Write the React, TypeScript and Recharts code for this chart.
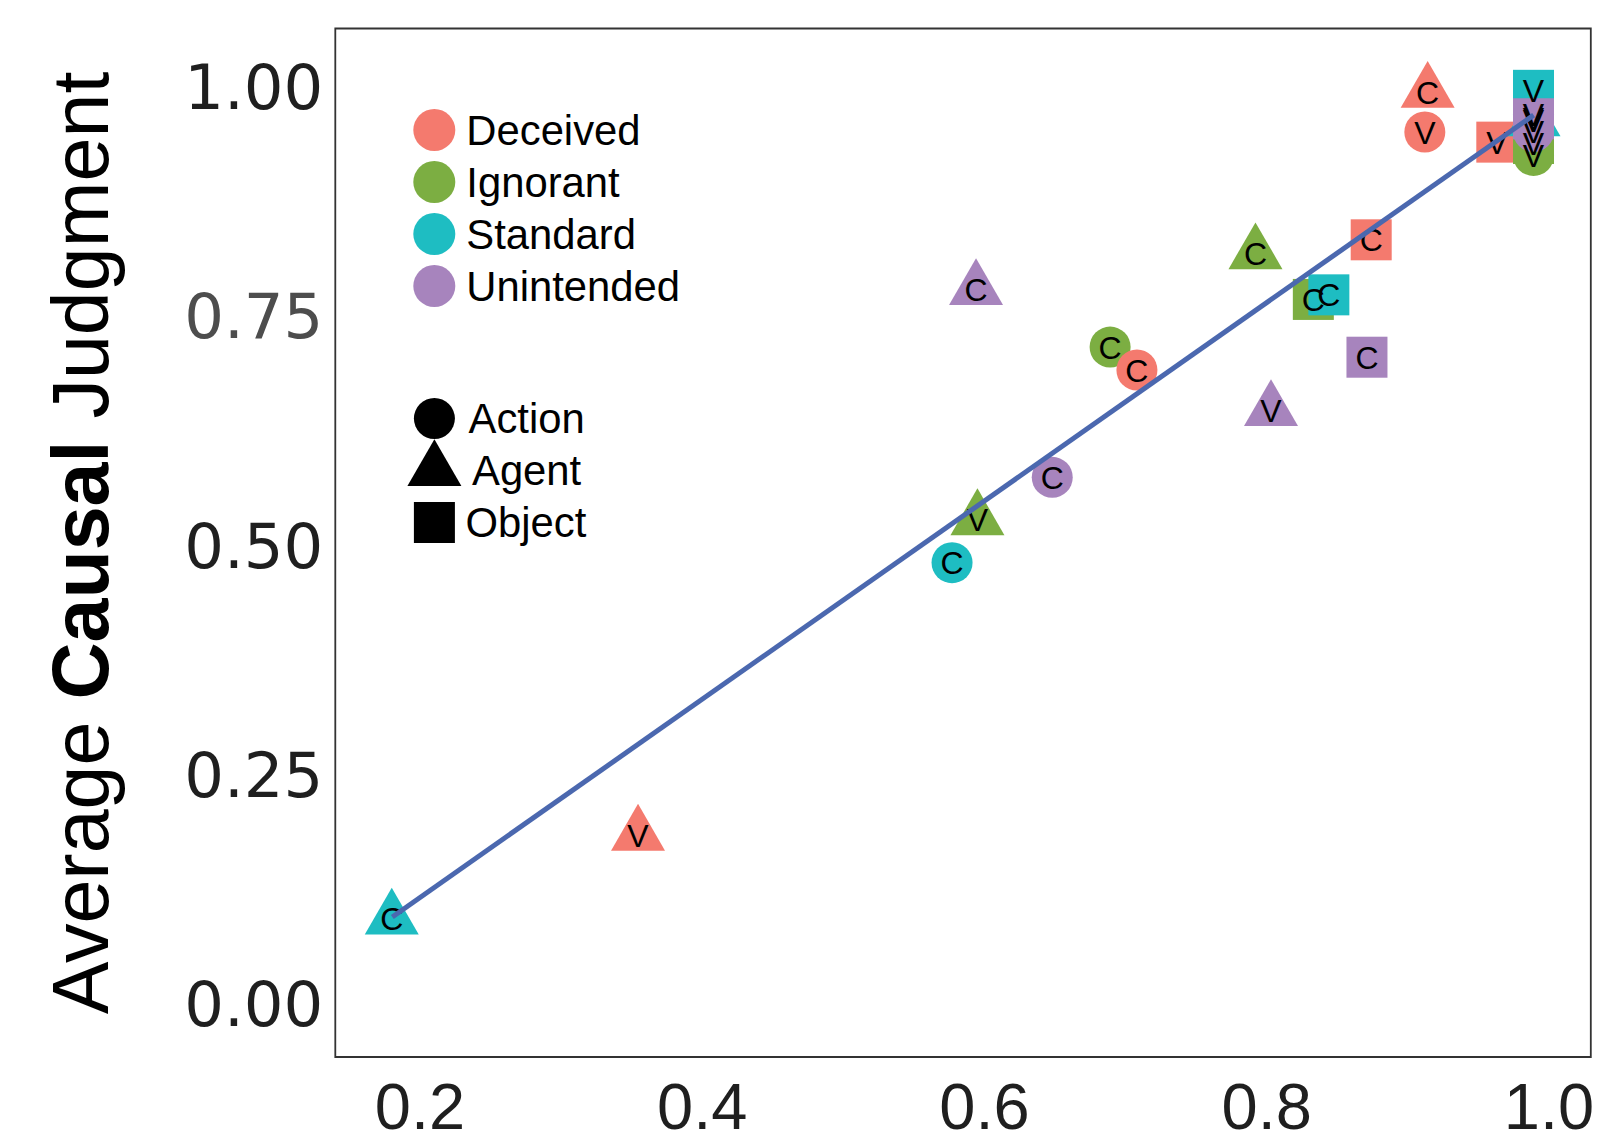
import React from 'react';
import { ScatterChart, Scatter, XAxis, YAxis, ReferenceArea } from 'recharts';

// ---- data ----
const conditions = ['Deceived', 'Ignorant', 'Standard', 'Unintended'];
const conditionColors = ['#F47A6E', '#7CAE42', '#1EBDC2', '#A784BD'];
const judgmentTypes = ['Action', 'Agent', 'Object'];

const pointCondition = [
  'Standard', 'Deceived', 'Standard', 'Ignorant', 'Unintended', 'Ignorant', 'Deceived', 'Unintended',
  'Ignorant', 'Unintended', 'Ignorant', 'Standard', 'Unintended', 'Deceived', 'Deceived', 'Deceived',
  'Deceived', 'Standard', 'Standard', 'Standard', 'Ignorant', 'Ignorant', 'Unintended', 'Unintended',
];
const pointType = [
  'Agent', 'Agent', 'Action', 'Agent', 'Action', 'Action', 'Action', 'Agent',
  'Agent', 'Agent', 'Object', 'Object', 'Object', 'Object', 'Agent', 'Action',
  'Object', 'Object', 'Action', 'Agent', 'Object', 'Action', 'Action', 'Object',
];
const pointLetter = [
  'C', 'V', 'C', 'V', 'C', 'C', 'C', 'C',
  'C', 'V', 'C', 'C', 'C', 'C', 'C', 'V',
  'V', 'V', 'V', 'V', 'V', 'V', 'V', 'V',
];
const pointX = [
  0.180, 0.3545, 0.577, 0.595, 0.648, 0.689, 0.708, 0.594,
  0.792, 0.803, 0.833, 0.844, 0.871, 0.874, 0.914, 0.912,
  0.963, 0.989, 0.989, 0.989, 0.989, 0.989, 0.989, 0.989,
];
const pointY = [
  0.0925, 0.184, 0.481, 0.528, 0.574, 0.716, 0.691, 0.779,
  0.818, 0.647, 0.768, 0.773, 0.705, 0.833, 0.994, 0.9505,
  0.9395, 0.996, 0.970, 0.963, 0.938, 0.925, 0.951, 0.965,
];

// fitted regression line end points
const fitX = [0.1804, 0.9891];
const fitY = [0.0947, 0.969];

const xTicks = [0.2, 0.4, 0.6, 0.8, 1.0];
const yTicks = [0, 0.25, 0.5, 0.75, 1.0];
const xDomain: [number, number] = [0.14, 1.0296];
const yDomain: [number, number] = [-0.058, 1.0634];

// ---- derived tables ----
const points = pointX.map((x, i) => ({
  x,
  y: pointY[i],
  cond: pointCondition[i],
  kind: pointType[i],
  letter: pointLetter[i],
}));
const fitData = fitX.map((x, i) => ({ x, y: fitY[i] }));

const SANS = "'Liberation Sans', Arial, Helvetica, sans-serif";
const colorOf = (c: string) => conditionColors[conditions.indexOf(c)];

const CIRCLE_R = 20.5;
const SQUARE = 41;
const TRI = 54;

function ShapeGlyph({ kind, cx, cy, fill }: { kind: string; cx: number; cy: number; fill: string }) {
  if (kind === 'Action') return <circle cx={cx} cy={cy} r={CIRCLE_R} fill={fill} />;
  if (kind === 'Object')
    return <rect x={cx - SQUARE / 2} y={cy - SQUARE / 2} width={SQUARE} height={SQUARE} fill={fill} />;
  const h = TRI * 0.866;
  const pts = `${cx},${cy - (2 * h) / 3} ${cx - TRI / 2},${cy + h / 3} ${cx + TRI / 2},${cy + h / 3}`;
  return <polygon points={pts} fill={fill} />;
}

const markerShape = (props: any) => {
  const { cx, cy, payload } = props;
  if (cx == null || cy == null) return <g />;
  return <ShapeGlyph kind={payload.kind} cx={cx} cy={cy} fill={colorOf(payload.cond)} />;
};

const labelShape = (props: any) => {
  const { cx, cy, payload } = props;
  if (cx == null || cy == null) return <g />;
  return (
    <text x={cx} y={cy + 11.5} textAnchor="middle" fontSize={32} fontFamily={SANS} fill="#000">
      {payload.letter}
    </text>
  );
};

const XTick = (props: any) => {
  const { x, y, payload } = props;
  return (
    <text x={x} y={y + 72} textAnchor="middle" fontSize={65} fontFamily={SANS} fill="#1f1f1f">
      {Number(payload.value).toFixed(1)}
    </text>
  );
};

const YTick = (props: any) => {
  const { x, y, payload } = props;
  const v = Number(payload.value);
  return (
    <text
      x={x - 12}
      y={y + 22.5}
      textAnchor="end"
      fontSize={62.5}
      fontFamily="'DejaVu Sans', sans-serif"
      fill={v === 0.75 ? '#4d4d4d' : '#1f1f1f'}
    >
      {v.toFixed(2)}
    </text>
  );
};

function Overlay() {
  const rowsColor = [130, 182, 234, 286];
  const rowsShape = [418.5, 470.5, 522.5];
  const shapeTextX = [468.5, 472, 465.5];
  return (
    <svg
      width={1598}
      height={1147}
      style={{ position: 'absolute', left: 0, top: 0, pointerEvents: 'none' }}
    >
      <text
        transform="translate(108, 543) rotate(-90)"
        textAnchor="middle"
        fontSize={79}
        fontFamily={SANS}
        fill="#000"
      >
        <tspan>Average </tspan>
        <tspan fontWeight="bold">Causal</tspan>
        <tspan> Judgment</tspan>
      </text>
      {conditions.map((c, i) => (
        <g key={c}>
          <circle cx={434.3} cy={rowsColor[i]} r={21} fill={conditionColors[i]} />
          <text x={466.3} y={rowsColor[i] + 15} fontSize={41.8} fontFamily={SANS} fill="#000">
            {c}
          </text>
        </g>
      ))}
      {judgmentTypes.map((t, i) => (
        <g key={t}>
          <ShapeGlyph kind={t} cx={434.4} cy={rowsShape[i]} fill="#000" />
          <text x={shapeTextX[i]} y={rowsShape[i] + 14.5} fontSize={41.8} fontFamily={SANS} fill="#000">
            {t}
          </text>
        </g>
      ))}
    </svg>
  );
}

export default function App() {
  return (
    <div style={{ position: 'absolute', left: 0, top: 0, width: 1598, height: 1147, background: '#fff' }}>
      <ScatterChart
        width={1598}
        height={1147}
        margin={{ top: 28.5, right: 7.2, bottom: 0, left: 0 }}
      >
        <XAxis
          type="number"
          dataKey="x"
          domain={xDomain}
          ticks={xTicks}
          interval={0}
          allowDataOverflow
          axisLine={false}
          tickLine={false}
          tickSize={0}
          tickMargin={0}
          height={90}
          tick={XTick}
        />
        <YAxis
          type="number"
          dataKey="y"
          domain={yDomain}
          ticks={yTicks}
          interval={0}
          allowDataOverflow
          axisLine={false}
          tickLine={false}
          tickSize={0}
          tickMargin={0}
          width={335.3}
          tick={YTick}
        />
        <ReferenceArea
          x1={xDomain[0]}
          x2={xDomain[1]}
          y1={yDomain[0]}
          y2={yDomain[1]}
          fill="none"
          fillOpacity={0}
          stroke="#333333"
          strokeWidth={1.8}
          ifOverflow="visible"
        />
        <Scatter data={points} shape={markerShape} isAnimationActive={false} />
        <Scatter data={points} shape={labelShape} isAnimationActive={false} />
        <Scatter
          data={fitData}
          line={{ stroke: '#4B68AF', strokeWidth: 5 }}
          shape={() => <g />}
          isAnimationActive={false}
        />
      </ScatterChart>
      <Overlay />
    </div>
  );
}
